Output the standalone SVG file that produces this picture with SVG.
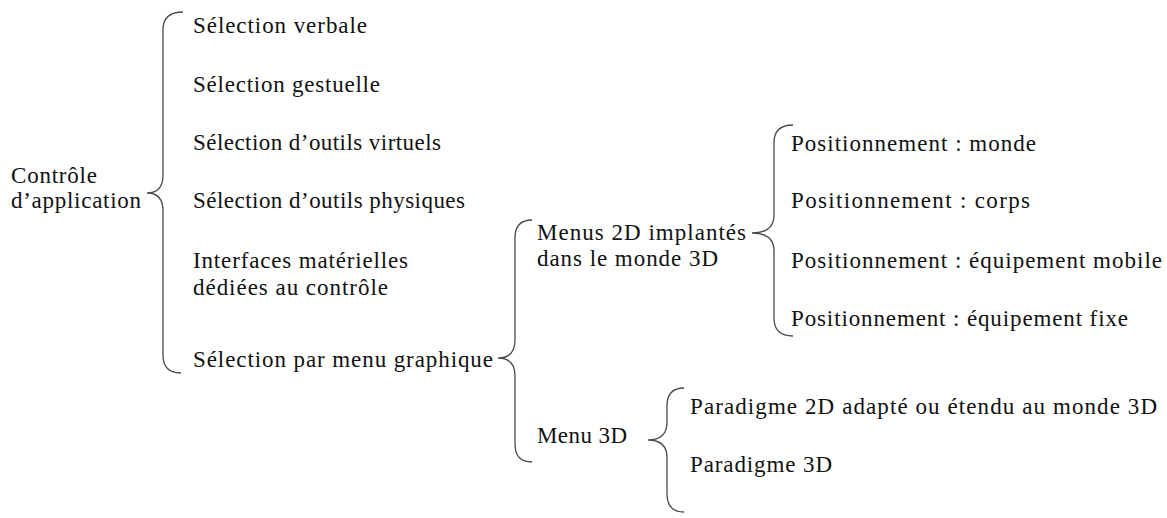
<svg xmlns="http://www.w3.org/2000/svg" width="1167" height="518" viewBox="0 0 1167 518">
<style>
text{font-family:"Liberation Serif","Times New Roman",serif;font-size:23px;fill:#111}
.br{fill:none;stroke:#4a4a4a;stroke-width:1.3}
</style>
<rect width="1167" height="518" fill="#fff"/>
<g id="connectors">
<path class="br" d="M183 12 Q163 12 163 30 L163 175 Q163 193 147 193 Q163 193 163 211 L163 355 Q163 373 181 373"/>
<path class="br" d="M532 220 Q515 220 515 238 L515 340 Q515 358 498 358 Q515 358 515 376 L515 444 Q515 462 532 462"/>
<path class="br" d="M793 125 Q774 125 774 143 L774 215 Q774 233 752 233 Q774 233 774 251 L774 318 Q774 336 793 336"/>
<path class="br" d="M684 388 Q667 388 667 406 L667 422 Q667 440 648 440 Q667 440 667 458 L667 494 Q667 512 684 512"/>
</g>
<g id="n-root" font-family="Liberation Serif"><text x="11" y="183" textLength="86" lengthAdjust="spacing">Contrôle</text><text x="11" y="208" textLength="130" lengthAdjust="spacing">d’application</text></g>
<g id="n-verbale"><text x="193" y="33" textLength="174" lengthAdjust="spacing">Sélection verbale</text></g>
<g id="n-gestuelle"><text x="193" y="92" textLength="187" lengthAdjust="spacing">Sélection gestuelle</text></g>
<g id="n-virtuels"><text x="193" y="150" textLength="248" lengthAdjust="spacing">Sélection d’outils virtuels</text></g>
<g id="n-physiques"><text x="193" y="208" textLength="272" lengthAdjust="spacing">Sélection d’outils physiques</text></g>
<g id="n-interfaces"><text x="193" y="268" textLength="215" lengthAdjust="spacing">Interfaces matérielles</text><text x="193" y="295" textLength="195" lengthAdjust="spacing">dédiées au contrôle</text></g>
<g id="n-menu-graphique"><text x="193" y="367" textLength="300" lengthAdjust="spacing">Sélection par menu graphique</text></g>
<g id="n-menus2d"><text x="537" y="240" textLength="209" lengthAdjust="spacing">Menus 2D implantés</text><text x="537" y="266" textLength="181" lengthAdjust="spacing">dans le monde 3D</text></g>
<g id="n-pos-monde"><text x="791" y="151" textLength="245" lengthAdjust="spacing">Positionnement : monde</text></g>
<g id="n-pos-corps"><text x="791" y="208" textLength="239" lengthAdjust="spacing">Positionnement : corps</text></g>
<g id="n-pos-mobile"><text x="791" y="268" textLength="371" lengthAdjust="spacing">Positionnement : équipement mobile</text></g>
<g id="n-pos-fixe"><text x="791" y="326" textLength="337" lengthAdjust="spacing">Positionnement : équipement fixe</text></g>
<g id="n-menu3d"><text x="537" y="443" textLength="90" lengthAdjust="spacing">Menu 3D</text></g>
<g id="n-para2d"><text x="690" y="414" textLength="467" lengthAdjust="spacing">Paradigme 2D adapté ou étendu au monde 3D</text></g>
<g id="n-para3d"><text x="690" y="472" textLength="142" lengthAdjust="spacing">Paradigme 3D</text></g>
</svg>
